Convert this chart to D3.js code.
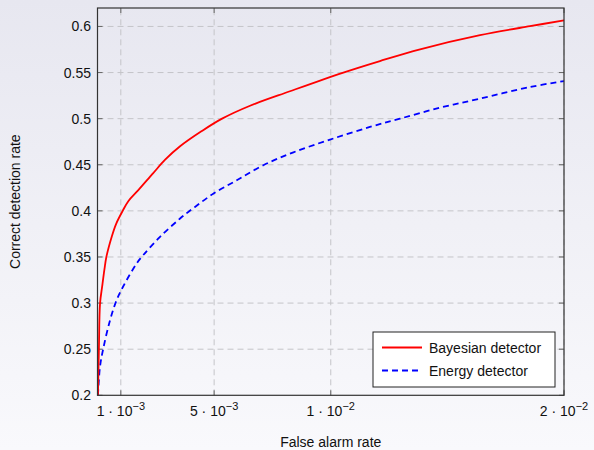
<!DOCTYPE html>
<html lang="en">
<head>
  <meta charset="utf-8">
  <title>Detection rate vs false alarm rate</title>
  <script src="https://d3js.org/d3.v7.min.js"></script>
  <style type="text/css">
    body { margin: 0; }
    text { font-family: "Liberation Sans", Arial, sans-serif; fill: #111; }
  </style>
</head>
<body>
  <script type="text/javascript">
    // values
    var falseAlarm = [0.00002, 0.00006, 0.00011, 0.0002, 0.0003, 0.00038, 0.00061, 0.0008, 0.00108, 0.00132,
      0.00175, 0.00239, 0.0029, 0.00354, 0.00447, 0.00534, 0.00654, 0.00825, 0.01054, 0.01211,
      0.01383, 0.0164, 0.01854, 0.02];
    var bayesian = [0.2, 0.25, 0.30, 0.318, 0.337, 0.35, 0.372, 0.386, 0.4, 0.4105,
      0.4225, 0.441, 0.4555, 0.470, 0.4865, 0.5, 0.514, 0.5297, 0.55, 0.5625,
      0.5752, 0.5905, 0.6003, 0.6065];

    var falseAlarmE = [0.00002, 0.000107, 0.00025, 0.00054, 0.00082, 0.0011, 0.00168, 0.00196, 0.00268, 0.00354,
      0.00418, 0.00496, 0.00597, 0.00711, 0.0084, 0.00997, 0.01168, 0.01297, 0.01468, 0.0164,
      0.01854, 0.02];
    var energy = [0.2, 0.231, 0.251, 0.2816, 0.3032, 0.318, 0.343, 0.352, 0.3718, 0.3917,
      0.4043, 0.4185, 0.4332, 0.4495, 0.4635, 0.4773, 0.491, 0.5, 0.5119, 0.5217,
      0.5343, 0.5408];

    var xTicks = [0.001, 0.005, 0.01, 0.02];
    var xTickLabels = [["1", "\u22123"], ["5", "\u22123"], ["1", "\u22122"], ["2", "\u22122"]];
    var yTicks = [0.2, 0.25, 0.3, 0.35, 0.4, 0.45, 0.5, 0.55, 0.6];
    var seriesNames = ["Bayesian detector", "Energy detector"];

    var w = 594, h = 450;
    var margin = { top: 8, right: 30, bottom: 55, left: 97.5 };

    var svg = d3.select("body").append("svg")
      .attr("width", w)
      .attr("height", h);

    // background gradient
    var grad = svg.append("defs").append("linearGradient")
      .attr("id", "bg").attr("x1", 0).attr("y1", 0).attr("x2", 0).attr("y2", 1);
    grad.append("stop").attr("offset", "0%").attr("stop-color", "#e7e7f0");
    grad.append("stop").attr("offset", "100%").attr("stop-color", "#f9f9fc");
    svg.append("rect").attr("width", w).attr("height", h).attr("fill", "url(#bg)");

    var x = d3.scaleLinear().domain([0, 0.02]).range([margin.left, 564]);
    var y = d3.scaleLinear().domain([0.2, 0.62]).range([395.3, margin.top]);

    var x0 = x.range()[0], x1 = x.range()[1];
    var y0 = y.range()[0], y1 = y.range()[1];

    // grid
    var grid = svg.append("g").attr("stroke", "#c4c4c8").attr("stroke-width", 1)
      .attr("stroke-dasharray", "6,4").attr("fill", "none");
    grid.selectAll(".gx").data(xTicks).enter().append("line")
      .attr("x1", function (d) { return x(d); }).attr("x2", function (d) { return x(d); })
      .attr("y1", y0).attr("y2", y1);
    grid.selectAll(".gy").data(yTicks.slice(1)).enter().append("line")
      .attr("y1", function (d) { return y(d); }).attr("y2", function (d) { return y(d); })
      .attr("x1", x0).attr("x2", x1);

    // ticks inside the frame, on all four sides
    var ticks = svg.append("g").attr("stroke", "#666").attr("stroke-width", 1);
    xTicks.forEach(function (d) {
      ticks.append("line").attr("x1", x(d)).attr("x2", x(d)).attr("y1", y0).attr("y2", y0 - 5);
      ticks.append("line").attr("x1", x(d)).attr("x2", x(d)).attr("y1", y1).attr("y2", y1 + 5);
    });
    yTicks.forEach(function (d) {
      ticks.append("line").attr("y1", y(d)).attr("y2", y(d)).attr("x1", x0).attr("x2", x0 + 5);
      ticks.append("line").attr("y1", y(d)).attr("y2", y(d)).attr("x1", x1).attr("x2", x1 - 5);
    });

    // curves
    var line = d3.line()
      .x(function (d) { return x(d[0]); })
      .y(function (d) { return y(d[1]); })
      .curve(d3.curveCatmullRom.alpha(0.5));

    svg.append("path")
      .datum(d3.zip(falseAlarmE, energy))
      .attr("d", line)
      .attr("fill", "none").attr("stroke", "#0000ff").attr("stroke-width", 1.8)
      .attr("stroke-dasharray", "6,4");

    svg.append("path")
      .datum(d3.zip(falseAlarm, bayesian))
      .attr("d", line)
      .attr("fill", "none").attr("stroke", "#ff0000").attr("stroke-width", 1.8);

    // frame
    svg.append("rect")
      .attr("x", x0).attr("y", y1).attr("width", x1 - x0).attr("height", y0 - y1)
      .attr("fill", "none").attr("stroke", "#333").attr("stroke-width", 1.2);

    // tick labels
    svg.selectAll(".yl").data(yTicks).enter().append("text")
      .attr("x", 91).attr("y", function (d) { return y(d) + 5; })
      .attr("text-anchor", "end").attr("font-size", 14)
      .text(function (d) { return String(d); });

    xTicks.forEach(function (d, i) {
      var t = svg.append("text").attr("x", x(d)).attr("y", 416)
        .attr("text-anchor", "middle").attr("font-size", 14);
      t.append("tspan").text(xTickLabels[i][0] + " \u00b7 10");
      t.append("tspan").attr("dy", -6).attr("font-size", 11).text(xTickLabels[i][1]);
    });

    // axis labels
    svg.append("text").attr("x", (x0 + x1) / 2).attr("y", 447)
      .attr("text-anchor", "middle").attr("font-size", 14).text("False alarm rate");
    svg.append("text")
      .attr("transform", "translate(20," + ((y0 + y1) / 2) + ") rotate(-90)")
      .attr("text-anchor", "middle").attr("font-size", 14).text("Correct detection rate");

    // legend
    var lg = svg.append("g");
    lg.append("rect").attr("x", 373).attr("y", 332).attr("width", 182).attr("height", 55)
      .attr("fill", "#fff").attr("stroke", "#222").attr("stroke-width", 1);
    var legendStyles = [{ c: "#ff0000", dash: null }, { c: "#0000ff", dash: "6,4" }];
    seriesNames.forEach(function (name, i) {
      var ly = 347.5 + i * 23;
      lg.append("line").attr("x1", 382).attr("x2", 422).attr("y1", ly).attr("y2", ly)
        .attr("stroke", legendStyles[i].c).attr("stroke-width", 1.8)
        .attr("stroke-dasharray", legendStyles[i].dash);
      lg.append("text").attr("x", 429).attr("y", ly + 5).attr("font-size", 14).text(name);
    });
  </script>
</body>
</html>
